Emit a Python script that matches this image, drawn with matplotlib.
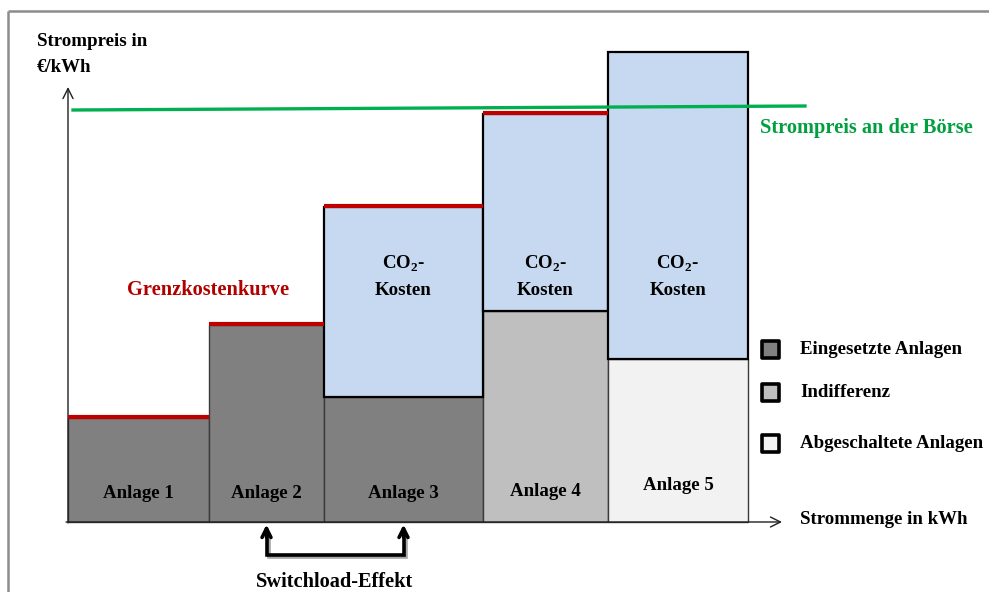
import matplotlib.pyplot as plt
import matplotlib.patheffects as pe
from matplotlib.patches import Rectangle

# Merit order: capacity (kWh) and cost parts (ct/kWh) per plant
anlagen = ["Anlage 1", "Anlage 2", "Anlage 3", "Anlage 4", "Anlage 5"]
menge = [14.1, 11.5, 15.9, 12.5, 14.0]
grundkosten = [10.4, 19.7, 12.5, 21.1, 16.3]
co2_kosten = [0.0, 0.0, 19.0, 19.7, 30.7]
status = ["eingesetzt", "eingesetzt", "eingesetzt", "indifferent", "abgeschaltet"]
grenzkosten_sichtbar = [True, True, True, True, False]

# market price line (start / end)
boerse_x = [0.5, 73.7]
boerse_preis = [41.2, 41.6]

farben = {"eingesetzt": "#808080", "indifferent": "#bfbfbf", "abgeschaltet": "#f2f2f2"}
legende = [("eingesetzt", "Eingesetzte Anlagen"),
           ("indifferent", "Indifferenz"),
           ("abgeschaltet", "Abgeschaltete Anlagen")]

plt.rcParams["font.family"] = ["Liberation Serif", "DejaVu Serif"]
plt.rcParams["font.weight"] = "bold"

fig = plt.figure(figsize=(9.89, 5.92), dpi=100)
ax = fig.add_axes([0, 0, 1, 1])
ax.set_xlim(-6.8, 92.1)
ax.set_ylim(-7.0, 52.2)
ax.axis("off")

fs = 13.6      # normal labels
fs_big = 14.7  # highlighted labels

# outer frame (top / left)
ax.plot([-6.0, 92.1], [51.1, 51.1], color="#8c8c8c", lw=1.8, solid_capstyle="butt")
ax.plot([-6.0, -6.0], [-7.0, 51.1], color="#8c8c8c", lw=1.8, solid_capstyle="butt")

# bars
x0 = 0.0
for name, w, base, co2, st, red in zip(anlagen, menge, grundkosten, co2_kosten,
                                        status, grenzkosten_sichtbar):
    ax.add_patch(Rectangle((x0, 0), w, base, facecolor=farben[st],
                           edgecolor="#3a3a3a", lw=1.0, zorder=2))
    if co2 > 0:
        ax.add_patch(Rectangle((x0, base), w, co2, facecolor="#c6d9f1",
                               edgecolor="black", lw=1.6, zorder=3))
        ax.text(x0 + w / 2, 25.8, "CO$_\\mathregular{2}$-", ha="center", va="center",
                fontsize=fs, zorder=5)
        ax.text(x0 + w / 2, 23.2, "Kosten", ha="center", va="center",
                fontsize=fs, zorder=5)
    if red:
        ax.plot([x0, x0 + w], [base + co2 + 0.15] * 2, color="#c00000", lw=3.0,
                solid_capstyle="butt", zorder=4)
    ax.text(x0 + w / 2, 2.9 if st == "eingesetzt" else 3.1 if st == "indifferent" else 3.6,
            name, ha="center", va="center", fontsize=fs, zorder=5)
    x0 += w

# market price
ax.plot(boerse_x, boerse_preis, color="#00b050", lw=2.4, zorder=6)
ax.text(69.2, 39.4, "Strompreis an der Börse", color="#00a040", fontsize=fs_big,
        ha="left", va="center")

# axes arrows
ax.annotate("", xy=(0, 43.5), xytext=(0, -0.1),
            arrowprops=dict(arrowstyle="->", lw=1.0, color="#202020",
                            mutation_scale=18, shrinkA=0, shrinkB=0))
ax.annotate("", xy=(71.4, 0), xytext=(-0.2, 0),
            arrowprops=dict(arrowstyle="->", lw=1.0, color="#202020",
                            mutation_scale=18, shrinkA=0, shrinkB=0))
ax.text(-3.1, 48.1, "Strompreis in", fontsize=fs, ha="left", va="center")
ax.text(-3.1, 45.5, "€/kWh", fontsize=fs, ha="left", va="center")
ax.text(73.2, 0.3, "Strommenge in kWh", fontsize=fs, ha="left", va="center")

ax.text(14.0, 23.2, "Grenzkostenkurve", color="#b00000", fontsize=fs_big,
        ha="center", va="center")

# legend
for i, (key, label) in enumerate(legende):
    yc = [17.3, 13.0, 7.9][i]
    ax.add_patch(Rectangle((69.4, yc - 0.85), 1.7, 1.7, facecolor=farben[key],
                           edgecolor="black", lw=2.6, joinstyle="round", zorder=5))
    ax.text(73.2, yc, label, fontsize=fs, ha="left", va="center")

# switchload bracket between plant 2 and plant 3
xa = menge[0] + menge[1] * 0.5
xb = menge[0] + menge[1] + menge[2] * 0.5
ax.plot([xa, xa, xb, xb], [-1.1, -3.3, -3.3, -1.1], color="black", lw=2.6,
        solid_joinstyle="miter",
        path_effects=[pe.SimpleLineShadow(offset=(1.5, -1.5), alpha=0.35), pe.Normal()])
for xx in (xa, xb):
    ax.annotate("", xy=(xx, -0.25), xytext=(xx, -1.5),
                arrowprops=dict(arrowstyle="->", lw=2.6, color="black",
                                mutation_scale=16, shrinkA=0, shrinkB=0))
ax.text((xa + xb) / 2, -6.0, "Switchload-Effekt", fontsize=fs_big, ha="center", va="center")

fig.savefig("out.png", dpi=100)
